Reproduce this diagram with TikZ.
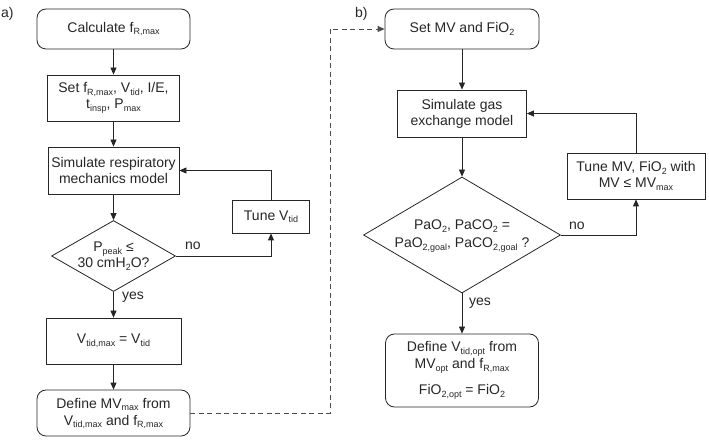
\documentclass[tikz,border=0pt]{standalone}
\usepackage{fontspec}
\setmainfont{Liberation Sans}
\usetikzlibrary{shapes.geometric,arrows.meta}
\newcommand\lsb[1]{\raisebox{-2.5bp}{\fontsize{9bp}{9bp}\selectfont #1}}
\begin{document}
\begin{tikzpicture}[x=1bp,y=-1bp,
  every node/.style={font=\fontsize{14bp}{16bp}\selectfont, text=black!85},
  box/.style={draw=black!85, line width=0.8bp, inner sep=0, align=center},
  rbox/.style={box, rounded corners=9bp},
  dia/.style={diamond, draw=black!85, line width=0.8bp, inner sep=0},
  txt/.style={align=center, inner sep=0},
  conn/.style={draw=black!85, line width=0.8bp, -{Triangle[length=7bp,width=6bp]}},
  dconn/.style={conn, draw=black!70, dash pattern=on 5bp off 3.5bp},
  lbl/.style={inner sep=0, anchor=base west}]
\useasboundingbox (0,0) rectangle (709,440);

% panel labels
\node[lbl] (la) at (1,18) {a)};
\node[lbl] (lb) at (355,18) {b)};

% ---- left column ----
\node[rbox, minimum width=153bp, minimum height=40bp] (calc) at (113.5,29) {Calculate f\lsb{R,max}};
\node[box, minimum width=132bp, minimum height=46bp] (setp) at (113.5,98) {Set f\lsb{R,max}, V\lsb{tid}, I/E,\\ t\lsb{insp}, P\lsb{max}};
\node[box, minimum width=131bp, minimum height=47bp] (sim) at (113.5,170.5) {Simulate respiratory\\ mechanics model};
\node[box, minimum width=77bp, minimum height=33bp] (tune) at (271,216.5) {Tune V\lsb{tid}};
\node[dia, minimum width=124bp, minimum height=71bp] (d1) at (113.5,256) {};
\node[txt] (d1t) at (113.5,256) {P\lsb{peak} ≤\\ 30 cmH\lsb{2}O?};
\node[box, minimum width=135bp, minimum height=46bp] (vmax) at (113.5,341) {V\lsb{tid,max} = V\lsb{tid}};
\node[rbox, minimum width=153bp, minimum height=46bp, text depth=3bp] (defmv) at (113.5,413) {Define MV\lsb{max} from\\[1bp] V\lsb{tid,max} and f\lsb{R,max}};

\draw[conn] (calc) -- (setp);
\draw[conn] (setp) -- (sim);
\draw[conn] (sim) -- (d1);
\draw[conn] (tune.north) |- (sim.east);
\draw[conn] (d1.east) -| (tune.south);
\draw[conn] (d1.south) -- (vmax.north);
\draw[conn] (vmax) -- (defmv);
\node[lbl] (no1) at (185,250) {no};
\node[lbl] (yes1) at (122,300) {yes};

% ---- right column ----
\node[rbox, minimum width=154bp, minimum height=40bp] (setmv) at (462,29) {Set MV and FiO\lsb{2}};
\node[box, minimum width=129bp, minimum height=47bp] (simg) at (462,113.5) {Simulate gas\\ exchange model};
\node[box, minimum width=138bp, minimum height=46bp] (tune2) at (636,176) {Tune MV, FiO\lsb{2} with\\ MV ≤ MV\lsb{max}};
\node[dia, minimum width=197bp, minimum height=116bp] (d2) at (462,235) {};
\node[txt] (d2t) at (462,236) {PaO\lsb{2}, PaCO\lsb{2} =\\[2bp] PaO\lsb{2,goal}, PaCO\lsb{2,goal} ?};
\node[rbox, minimum width=153bp, minimum height=73bp] (defv) at (462,370.5) {Define V\lsb{tid,opt} from\\[1bp] MV\lsb{opt} and f\lsb{R,max}\\[10bp] FiO\lsb{2,opt} = FiO\lsb{2}};

\draw[conn] (setmv) -- (simg);
\draw[conn] (simg) -- (d2);
\draw[conn] (tune2.north) |- (simg.east);
\draw[conn] (d2.east) -| (tune2.south);
\draw[conn] (d2.south) -- (defv.north);
\node[lbl] (no2) at (569,230) {no};
\node[lbl] (yes2) at (469,306) {yes};

% dashed link a) -> b)
\coordinate (c1) at (330,413);
\coordinate (c2) at (330,29);
\draw[dconn] (defmv.east) -- (c1) -- (c2) -- (setmv.west);
\end{tikzpicture}
\end{document}
